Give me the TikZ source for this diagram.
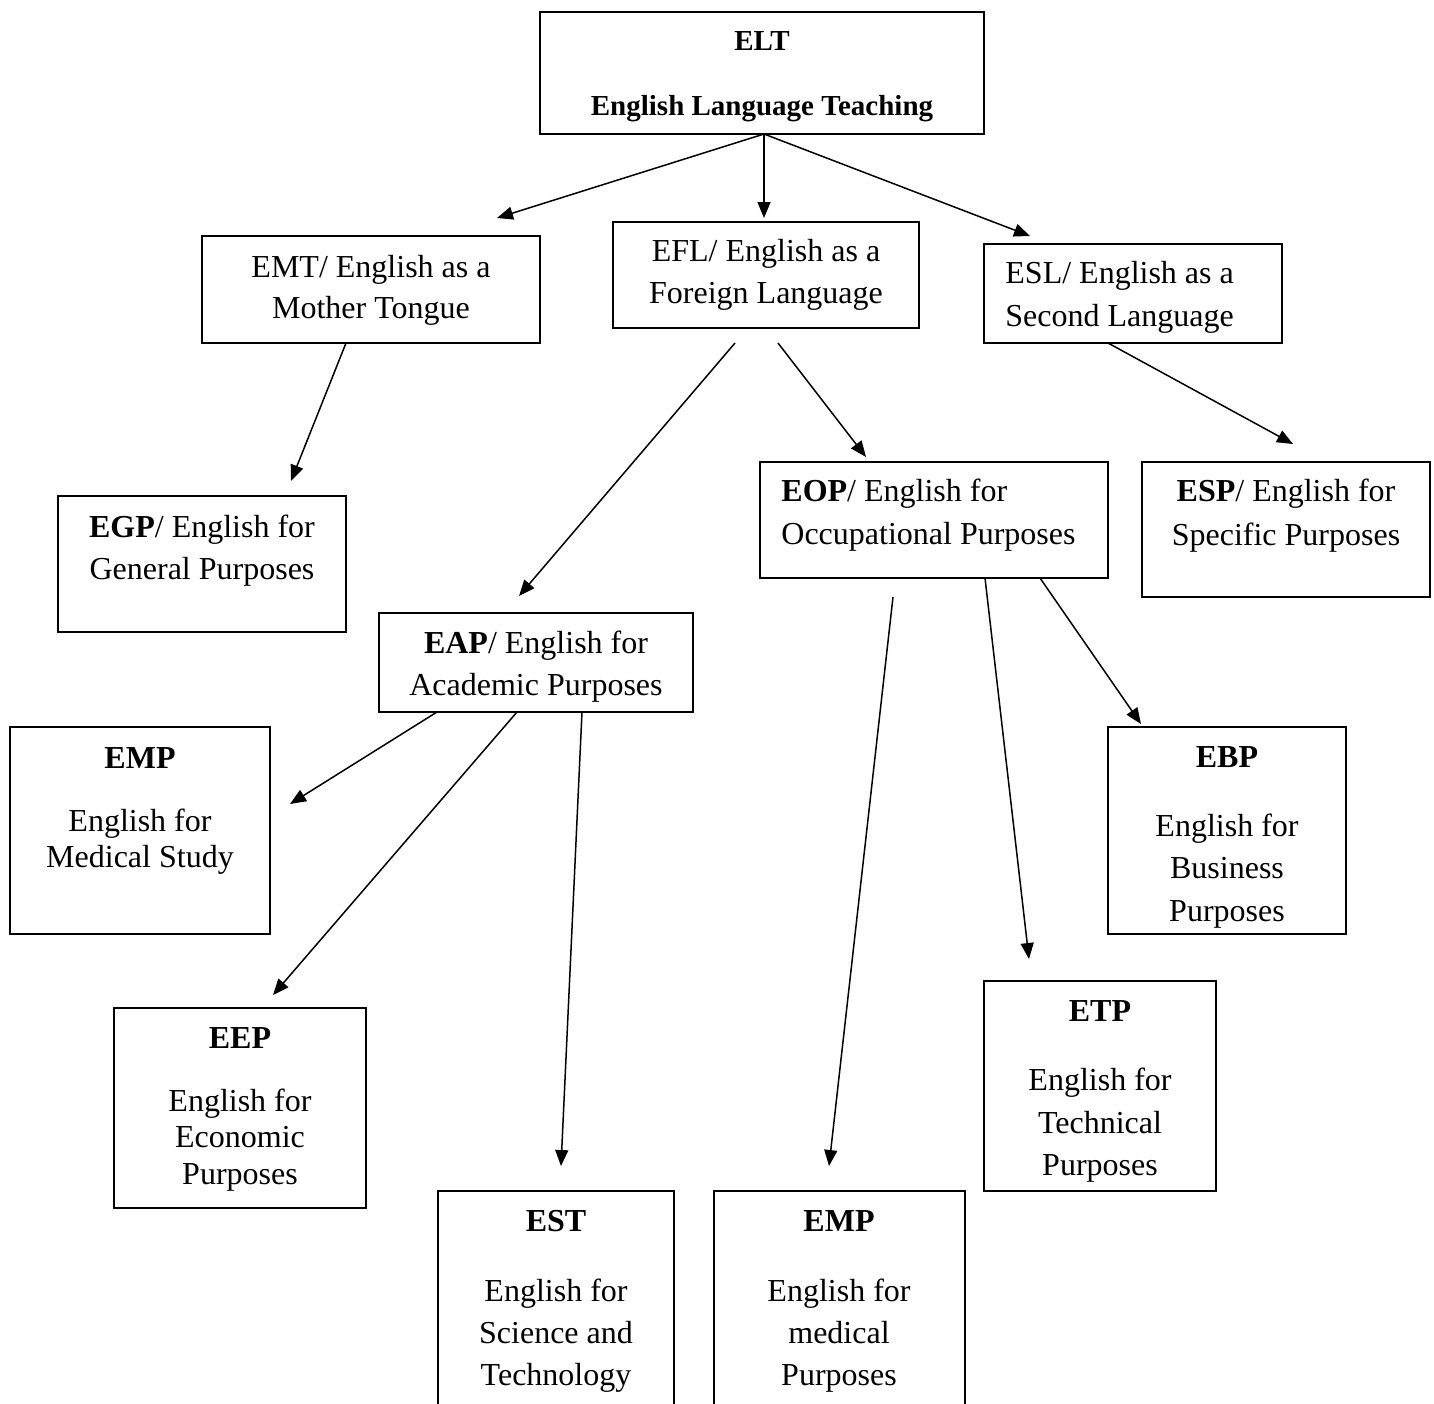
\documentclass[tikz,border=0pt]{standalone}
\usepackage{fontspec}
\setmainfont{Liberation Serif}
\usetikzlibrary{arrows.meta}
\begin{document}
\begin{tikzpicture}[x=0.5pt,y=-0.5pt,
  box/.style 2 args={draw, line width=0.9pt, inner sep=0pt,
    minimum width=#1*0.5pt, minimum height=#2*0.5pt},
  txt/.style={inner sep=0pt, font=\fontsize{16pt}{21pt}\selectfont, anchor=base},
  txtl/.style={txt, anchor=base west},
  head/.style={txt, font=\fontsize{14.5pt}{18pt}\selectfont\bfseries},
  arr/.style={line width=0.75pt, -{Triangle[length=8pt,width=6.5pt]}}]

\useasboundingbox (0,0) rectangle (1434,1403);
\clip (0,0) rectangle (1434,1403);

% boxes
\node[box={444}{122}] (elt)  at (762,73) {};
\node[box={338}{107}] (emt)  at (371,289.5) {};
\node[box={306}{106}] (efl)  at (766,275) {};
\node[box={298}{99}]  (esl)  at (1133,293.5) {};
\node[box={288}{136}] (egp)  at (202,564) {};
\node[box={348}{116}] (eop)  at (934,520) {};
\node[box={288}{135}] (esp)  at (1286,529.5) {};
\node[box={314}{99}]  (eap)  at (536,662.5) {};
\node[box={260}{207}] (empa) at (140,830.5) {};
\node[box={238}{207}] (ebp)  at (1227,830.5) {};
\node[box={252}{200}] (eep)  at (240,1108) {};
\node[box={232}{210}] (etp)  at (1100,1086) {};
\node[box={236}{239}] (est)  at (556,1310.5) {};
\node[box={251}{239}] (empb) at (839.5,1310.5) {};

% texts
\node[head] (elt1) at (762,50) {ELT};
\node[head] (elt2) at (762,115) {English Language Teaching};

\node[txt] (emt1) at (371,277) {EMT/ English as a};
\node[txt] (emt2) at (371,318) {Mother Tongue};

\node[txt] (efl1) at (766,261) {EFL/ English as a};
\node[txt] (efl2) at (766,303) {Foreign Language};

\node[txtl] (esl1) at (1005,283) {ESL/ English as a};
\node[txtl] (esl2) at (1005,326) {Second Language};

\node[txt] (egp1) at (202,537) {\textbf{EGP}/ English for};
\node[txt] (egp2) at (202,579) {General Purposes};

\node[txtl] (eop1) at (781,501) {\textbf{EOP}/ English for};
\node[txtl] (eop2) at (781,544) {Occupational Purposes};

\node[txt] (esp1) at (1286,501) {\textbf{ESP}/ English for};
\node[txt] (esp2) at (1286,545) {Specific Purposes};

\node[txt] (eap1) at (536,653) {\textbf{EAP}/ English for};
\node[txt] (eap2) at (536,695) {Academic Purposes};

\node[txt] (empa1) at (140,768) {\textbf{EMP}};
\node[txt] (empa2) at (140,831) {English for};
\node[txt] (empa3) at (140,867) {Medical Study};

\node[txt] (ebp1) at (1227,767) {\textbf{EBP}};
\node[txt] (ebp2) at (1227,836) {English for};
\node[txt] (ebp3) at (1227,878) {Business};
\node[txt] (ebp4) at (1227,921) {Purposes};

\node[txt] (eep1) at (240,1048) {\textbf{EEP}};
\node[txt] (eep2) at (240,1111) {English for};
\node[txt] (eep3) at (240,1147) {Economic};
\node[txt] (eep4) at (240,1184) {Purposes};

\node[txt] (etp1) at (1100,1021) {\textbf{ETP}};
\node[txt] (etp2) at (1100,1090) {English for};
\node[txt] (etp3) at (1100,1133) {Technical};
\node[txt] (etp4) at (1100,1175) {Purposes};

\node[txt] (est1) at (556,1231) {\textbf{EST}};
\node[txt] (est2) at (556,1301) {English for};
\node[txt] (est3) at (556,1343) {Science and};
\node[txt] (est4) at (556,1385) {Technology};

\node[txt] (empb1) at (839,1231) {\textbf{EMP}};
\node[txt] (empb2) at (839,1301) {English for};
\node[txt] (empb3) at (839,1343) {medical};
\node[txt] (empb4) at (839,1385) {Purposes};

% connector ends
\coordinate (elt-o) at (764,134);
\coordinate (emt-i) at (497,218);
\coordinate (efl-i) at (764,218);
\coordinate (esl-i) at (1030,236);
\coordinate (emt-o) at (346,343);
\coordinate (egp-i) at (291,481);
\coordinate (efl-oa) at (735,343);
\coordinate (eap-i) at (519,596);
\coordinate (efl-ob) at (778,343);
\coordinate (eop-i) at (866,457);
\coordinate (esl-o) at (1108,343);
\coordinate (esp-i) at (1293,444);
\coordinate (eap-oa) at (437,712);
\coordinate (empa-i) at (290,804);
\coordinate (eap-ob) at (517,712);
\coordinate (eep-i) at (273,995);
\coordinate (eap-oc) at (582,712);
\coordinate (est-i) at (561,1166);
\coordinate (eop-oa) at (893,597);
\coordinate (empb-i) at (829,1166);
\coordinate (eop-ob) at (985,578);
\coordinate (etp-i) at (1029,959);
\coordinate (eop-oc) at (1040,578);
\coordinate (ebp-i) at (1141,724);

% connectors
\draw[arr] (elt-o) -- (emt-i);
\draw[arr] (elt-o) -- (efl-i);
\draw[arr] (elt-o) -- (esl-i);
\draw[arr] (emt-o) -- (egp-i);
\draw[arr] (efl-oa) -- (eap-i);
\draw[arr] (efl-ob) -- (eop-i);
\draw[arr] (esl-o) -- (esp-i);
\draw[arr] (eap-oa) -- (empa-i);
\draw[arr] (eap-ob) -- (eep-i);
\draw[arr] (eap-oc) -- (est-i);
\draw[arr] (eop-oa) -- (empb-i);
\draw[arr] (eop-ob) -- (etp-i);
\draw[arr] (eop-oc) -- (ebp-i);
\end{tikzpicture}
\end{document}
